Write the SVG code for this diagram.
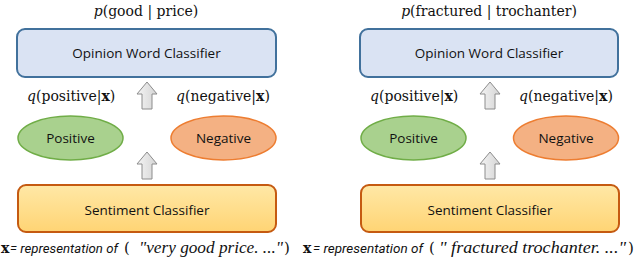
<svg xmlns="http://www.w3.org/2000/svg" width="640" height="262" viewBox="0 0 640 262">
<defs>
<linearGradient id="gSent" x1="0" y1="0" x2="0" y2="1">
<stop offset="0" stop-color="#ffe8a6"/>
<stop offset="1" stop-color="#ffd474"/>
</linearGradient>
<linearGradient id="gArrow" x1="0" y1="0" x2="1" y2="0">
<stop offset="0" stop-color="#f4f4f4"/>
<stop offset="1" stop-color="#d4d4d4"/>
</linearGradient>
<path id="arrow" d="M0,0 L10,12 L5,12 L5,27 L-5,27 L-5,12 L-10,12 Z"/>
</defs>
<style>
.op{fill:#dae3f3;stroke:#41719c;stroke-width:2}
.sent{fill:url(#gSent);stroke:#c55a11;stroke-width:2}
.pos{fill:#a9d18e;stroke:#70ad47;stroke-width:1.5}
.neg{fill:#f4b183;stroke:#ed7d31;stroke-width:1.5}
.arr{fill:url(#gArrow);stroke:#8c8c8c;stroke-width:1}
.lbl{font-family:"Open Sans","Liberation Sans",sans-serif;font-size:13.5px;fill:#111;text-anchor:middle}
.math{font-family:"DejaVu Serif","Liberation Serif",serif;font-size:14px;fill:#111}
.it{font-style:italic}
.b{font-weight:bold}
.cap{font-family:Roboto,"Liberation Sans",sans-serif;font-size:13.5px;font-style:italic;fill:#111}
.capser{font-family:"Liberation Serif","DejaVu Serif",serif;font-size:16px;font-style:italic;fill:#111}
.par{font-family:"DejaVu Serif","Liberation Serif",serif;font-size:15px;fill:#111}
</style>

<g id="connectors">
<use href="#arrow" x="147" y="82" class="arr"/>
<use href="#arrow" x="147" y="152" class="arr"/>
<use href="#arrow" x="490" y="82" class="arr"/>
<use href="#arrow" x="490" y="152" class="arr"/>
</g>

<!-- Left panel -->
<g id="title-left">
<text x="146" y="16" class="math" text-anchor="middle"><tspan class="it">p</tspan>(good | price)</text>
</g>
<g id="opinion-left">
<rect x="17" y="29" width="259" height="48" rx="8" class="op"/>
<text x="146.5" y="58" class="lbl">Opinion Word Classifier</text>
</g>
<g id="qpos-left">
<text x="27" y="101" class="math"><tspan class="it">q</tspan>(positive|<tspan class="b">x</tspan>)</text>
</g>
<g id="qneg-left">
<text x="176" y="101" class="math"><tspan class="it">q</tspan>(negative|<tspan class="b">x</tspan>)</text>
</g>
<g id="positive-left">
<ellipse cx="70.5" cy="138" rx="52.5" ry="22" class="pos"/>
<text x="70.5" y="143" class="lbl">Positive</text>
</g>
<g id="negative-left">
<ellipse cx="223.5" cy="138" rx="52.5" ry="22" class="neg"/>
<text x="223.5" y="143" class="lbl">Negative</text>
</g>
<g id="sentiment-left">
<rect x="18" y="185" width="258" height="47" rx="8" class="sent"/>
<text x="147" y="215" class="lbl">Sentiment Classifier</text>
</g>
<g id="caption-left">
<text x="1" y="253" class="math b">x</text>
<text x="10" y="253" class="cap" textLength="108" lengthAdjust="spacingAndGlyphs">= representation of</text>
<text x="124" y="253" class="par">(</text>
<text x="139" y="253" class="capser" textLength="144" lengthAdjust="spacingAndGlyphs">"very good price. ..."</text>
<text x="284" y="253" class="par">)</text>
</g>

<!-- Right panel -->
<g id="title-right">
<text x="489" y="16" class="math" text-anchor="middle"><tspan class="it">p</tspan>(fractured | trochanter)</text>
</g>
<g id="opinion-right">
<rect x="360" y="29" width="258" height="48" rx="8" class="op"/>
<text x="489" y="58" class="lbl">Opinion Word Classifier</text>
</g>
<g id="qpos-right">
<text x="370" y="101" class="math"><tspan class="it">q</tspan>(positive|<tspan class="b">x</tspan>)</text>
</g>
<g id="qneg-right">
<text x="519" y="101" class="math"><tspan class="it">q</tspan>(negative|<tspan class="b">x</tspan>)</text>
</g>
<g id="positive-right">
<ellipse cx="413.5" cy="138" rx="52.5" ry="22" class="pos"/>
<text x="413.5" y="143" class="lbl">Positive</text>
</g>
<g id="negative-right">
<ellipse cx="566" cy="138" rx="52.5" ry="22" class="neg"/>
<text x="566" y="143" class="lbl">Negative</text>
</g>
<g id="sentiment-right">
<rect x="361" y="185" width="258" height="47" rx="8" class="sent"/>
<text x="490" y="215" class="lbl">Sentiment Classifier</text>
</g>
<g id="caption-right">
<text x="303" y="253" class="math b">x</text>
<text x="313" y="253" class="cap" textLength="110" lengthAdjust="spacingAndGlyphs">= representation of</text>
<text x="429" y="253" class="par">(</text>
<text x="439" y="253" class="capser" textLength="187" lengthAdjust="spacingAndGlyphs">" fractured trochanter. ..."</text>
<text x="628" y="253" class="par">)</text>
</g>
</svg>
